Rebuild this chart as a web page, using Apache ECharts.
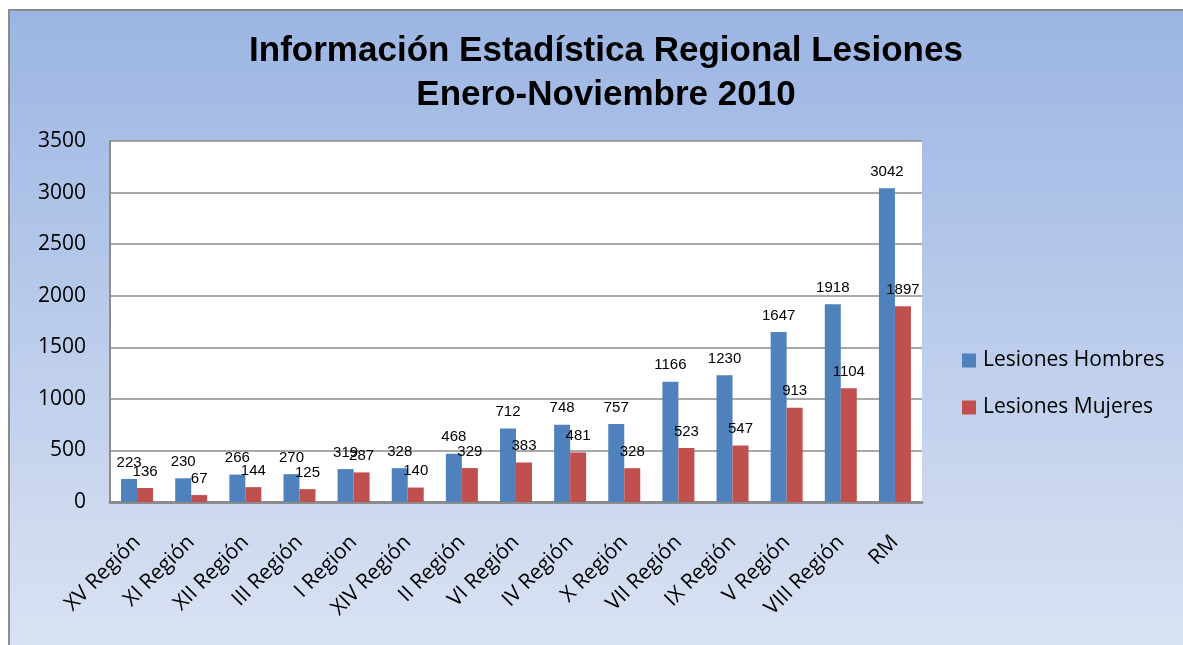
<!DOCTYPE html>
<html>
<head>
<meta charset="utf-8">
<title>Información Estadística Regional Lesiones</title>
<script src="https://cdn.jsdelivr.net/npm/echarts@6/dist/echarts.min.js"></script>
<style>
  html, body { margin: 0; padding: 0; background: #fff; }
  #chart { width: 1183px; height: 645px; }
</style>
</head>
<body>
<div id="chart"></div>
<script>
// regiones (eje X)
var regiones = ['XV Región', 'XI Región', 'XII Región', 'III Región', 'I Region', 'XIV Región', 'II Región',
  'VI Región', 'IV Región', 'X Región', 'VII Región', 'IX Región', 'V Región', 'VIII Región', 'RM'];
// lesiones hombres
var hombres = [223, 230, 266, 270, 319, 328, 468, 712, 748, 757, 1166, 1230, 1647, 1918, 3042];
// lesiones mujeres
var mujeres = [136, 67, 144, 125, 287, 140, 329, 383, 481, 328, 523, 547, 913, 1104, 1897];
var nombres = ['Lesiones Hombres', 'Lesiones Mujeres'];
var colores = ['#4f81bd', '#c0504d'];

var chart = echarts.init(document.getElementById('chart'));

var etiqueta = {
  show: true,
  position: 'top',
  distance: 9,
  color: '#000',
  fontSize: 15,
  fontFamily: 'Liberation Sans, Arial, sans-serif'
};

var option = {
  animation: false,
  // fondo con degradado y marco gris
  graphic: [{
    type: 'rect',
    z: -10,
    silent: true,
    shape: { x: 9, y: 10, width: 1200, height: 700 },
    style: {
      fill: new echarts.graphic.LinearGradient(0, 0, 0, 1, [
        { offset: 0, color: '#9bb5e3' },
        { offset: 1, color: '#e0e7f4' }
      ]),
      stroke: '#8c8c8c',
      lineWidth: 2
    }
  }],
  title: {
    text: 'Información Estadística Regional Lesiones\nEnero-Noviembre 2010',
    left: 601,
    top: 24,
    textAlign: 'center',
    textStyle: {
      fontFamily: 'Liberation Sans, Arial, sans-serif',
      fontWeight: 'bold',
      fontSize: 35,
      lineHeight: 44,
      color: '#000'
    }
  },
  legend: {
    orient: 'vertical',
    left: 962,
    top: 350,
    padding: 0,
    itemWidth: 14,
    itemHeight: 14,
    itemGap: 26,
    icon: 'rect',
    selectedMode: false,
    data: nombres,
    textStyle: {
      fontFamily: 'Open Sans, sans-serif',
      fontSize: 21,
      color: '#000',
      padding: [0, 0, 0, 2]
    }
  },
  grid: {
    left: 110,
    right: 261,
    top: 141,
    bottom: 143,
    show: true,
    backgroundColor: '#fff',
    borderWidth: 0
  },
  xAxis: {
    type: 'category',
    data: regiones,
    axisTick: { show: false },
    axisLine: { lineStyle: { color: '#8c8c8c', width: 3 } },
    axisLabel: {
      interval: 0,
      rotate: 45,
      margin: 37,
      color: '#000',
      fontSize: 21,
      fontFamily: 'Open Sans, sans-serif'
    }
  },
  yAxis: {
    type: 'value',
    min: 0,
    max: 3500,
    interval: 500,
    axisLine: { show: true, lineStyle: { color: '#8c8c8c', width: 2 } },
    axisTick: { show: false },
    splitLine: { lineStyle: { color: '#8c8c8c', width: 1.5 } },
    axisLabel: {
      margin: 24,
      color: '#000',
      fontSize: 21,
      fontFamily: 'Open Sans, sans-serif',
      formatter: function (v) { return String(v); }
    }
  },
  series: [
    {
      name: nombres[0],
      type: 'bar',
      data: hombres,
      barWidth: 16,
      barGap: '0%',
      itemStyle: { color: colores[0] },
      label: etiqueta
    },
    {
      name: nombres[1],
      type: 'bar',
      data: mujeres,
      barWidth: 16,
      barGap: '0%',
      itemStyle: { color: colores[1] },
      label: etiqueta
    }
  ]
};

chart.setOption(option);
</script>
</body>
</html>
